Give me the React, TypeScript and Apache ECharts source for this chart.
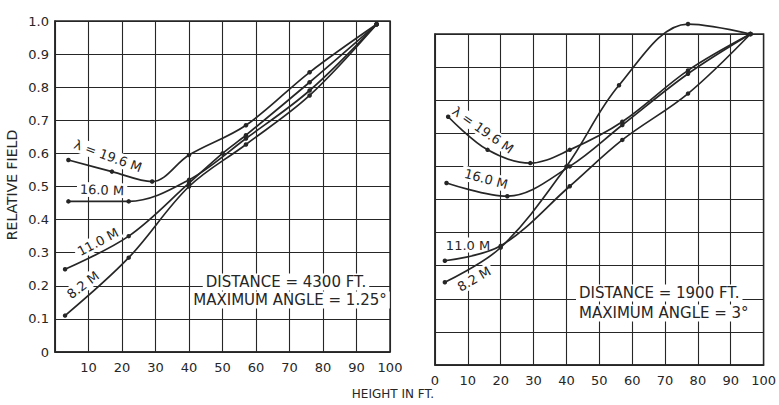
import React, { useEffect, useRef } from "react";
import * as echarts from "echarts";

// ---- data (heights in ft, relative field) ----
const xTicks = [0, 10, 20, 30, 40, 50, 60, 70, 80, 90, 100];
const yTicks = [0, 0.1, 0.2, 0.3, 0.4, 0.5, 0.6, 0.7, 0.8, 0.9, 1.0];

// Left panel: distance 4300 ft, max angle 1.25°
const leftH196 = [4, 17, 29, 40, 57, 76, 96];
const leftF196 = [0.58, 0.545, 0.515, 0.595, 0.685, 0.845, 0.99];
const leftH160 = [4, 22, 40, 57, 76, 96];
const leftF160 = [0.455, 0.455, 0.52, 0.645, 0.79, 0.99];
const leftH110 = [3, 22, 40, 50, 57, 76, 96];
const leftF110 = [0.25, 0.35, 0.51, 0.6, 0.655, 0.815, 0.99];
const leftH82 = [3, 22, 40, 57, 76, 96];
const leftF82 = [0.11, 0.285, 0.5, 0.627, 0.775, 0.99];

// Right panel: distance 1900 ft, max angle 3°
const rightH196 = [4, 16, 29, 41, 57, 77, 96];
const rightF196 = [0.75, 0.65, 0.61, 0.65, 0.735, 0.89, 1.0];
const rightH160 = [3.5, 22, 41, 57, 77, 96];
const rightF160 = [0.55, 0.51, 0.6, 0.725, 0.88, 1.0];
const rightH110 = [3, 20, 41, 57, 77, 96];
const rightF110 = [0.315, 0.36, 0.54, 0.68, 0.82, 1.0];
const rightH82 = [3, 20, 40, 56, 77, 96];
const rightF82 = [0.25, 0.355, 0.6, 0.845, 1.03, 1.0];

const INK = "#262626";
const FONT = '"DejaVu Sans", sans-serif';

function mkX(gi: number, hideZero: boolean) {
  return {
    type: "value",
    gridIndex: gi,
    z: 0,
    min: xTicks[0],
    max: xTicks[xTicks.length - 1],
    interval: xTicks[1] - xTicks[0],
    axisLine: { show: true, onZero: false, lineStyle: { color: INK, width: 1.5 } },
    axisTick: { show: false },
    splitLine: { show: true, lineStyle: { color: INK, width: 1.1 } },
    axisLabel: {
      color: INK,
      fontFamily: FONT,
      fontSize: 13,
      margin: 9,
      showMinLabel: true,
      showMaxLabel: true,
      formatter: (v: number) => (hideZero && v === 0 ? "" : String(v)),
    },
  };
}

function mkY(gi: number, showLabels: boolean) {
  return {
    type: "value",
    gridIndex: gi,
    z: 0,
    min: yTicks[0],
    max: yTicks[yTicks.length - 1],
    interval: 0.1,
    axisLine: { show: true, onZero: false, lineStyle: { color: INK, width: 1.5 } },
    axisTick: { show: false },
    splitLine: { show: true, lineStyle: { color: INK, width: 1.1 } },
    axisLabel: {
      show: showLabels,
      color: INK,
      fontFamily: FONT,
      fontSize: 13,
      margin: 6,
      formatter: (v: number) => (Math.abs(v) < 1e-9 ? "0" : v.toFixed(1)),
    },
  };
}

function mkSeries(name: string, xs: number[], ys: number[], gi: number) {
  return {
    type: "line",
    name,
    xAxisIndex: gi,
    yAxisIndex: gi,
    data: xs.map((x, i) => [x, ys[i]]),
    smooth: 0.35,
    symbol: "circle",
    symbolSize: 4.5,
    clip: false,
    silent: true,
    z: 5,
    lineStyle: { color: INK, width: 1.7 },
    itemStyle: { color: INK },
  };
}

function label(text: string, x: number, y: number, rot: number, size = 13, align = "center") {
  return {
    type: "text",
    x,
    y,
    rotation: rot,
    z: 3,
    style: {
      text,
      fill: INK,
      font: `${size}px ${FONT}`,
      align,
      verticalAlign: "middle",
      backgroundColor: "#ffffff",
      padding: [1, 3],
    },
  };
}

export default function App() {
  const ref = useRef<HTMLDivElement>(null);
  useEffect(() => {
    if (!ref.current) return;
    const chart = echarts.init(ref.current, null, { renderer: "svg" });
    const deg = Math.PI / 180;
    chart.setOption({
      animation: false,
      backgroundColor: "#ffffff",
      grid: [
        { left: 55, top: 21, width: 335, height: 331, show: true, borderColor: INK, borderWidth: 1.5 },
        { left: 435, top: 34, width: 337, height: 331, show: true, borderColor: INK, borderWidth: 1.5 },
      ],
      xAxis: [mkX(0, true), mkX(1, false)],
      yAxis: [mkY(0, true), mkY(1, false)],
      series: [
        mkSeries("λ = 19.6 M (4300 ft)", leftH196, leftF196, 0),
        mkSeries("16.0 M (4300 ft)", leftH160, leftF160, 0),
        mkSeries("11.0 M (4300 ft)", leftH110, leftF110, 0),
        mkSeries("8.2 M (4300 ft)", leftH82, leftF82, 0),
        mkSeries("λ = 19.6 M (1900 ft)", rightH196, rightF196, 1),
        mkSeries("16.0 M (1900 ft)", rightH160, rightF160, 1),
        mkSeries("11.0 M (1900 ft)", rightH110, rightF110, 1),
        mkSeries("8.2 M (1900 ft)", rightH82, rightF82, 1),
      ],
      graphic: {
        elements: [
          // axis titles
          {
            type: "text",
            x: 12,
            y: 185,
            rotation: Math.PI / 2,
            style: { text: "RELATIVE FIELD", fill: INK, font: `14px ${FONT}`, align: "center", verticalAlign: "middle" },
          },
          {
            type: "text",
            x: 393,
            y: 394,
            style: { text: "HEIGHT IN FT.", fill: INK, font: `12px ${FONT}`, align: "center", verticalAlign: "middle" },
          },
          // left panel curve labels
          label("λ = 19.6 M", 108, 156, -20 * deg),
          label("16.0 M", 102, 190, -2 * deg),
          label("11.0 M", 98, 242, 28 * deg),
          label("8.2 M", 83, 285, 37 * deg),
          // right panel curve labels
          label("λ = 19.6 M", 483, 130, -35 * deg),
          label("16.0 M", 486, 179, -15 * deg),
          label("11.0 M", 468, 245, 0),
          label("8.2 M", 474, 279, 30 * deg),
          // notes
          label("DISTANCE = 4300 FT.", 286, 282, 0, 15),
          label("MAXIMUM ANGLE = 1.25°", 290, 300, 0, 15),
          label("DISTANCE = 1900 FT.", 576, 293, 0, 15, "left"),
          label("MAXIMUM ANGLE = 3°", 576, 313, 0, 15, "left"),
        ],
      },
    });
    return () => chart.dispose();
  }, []);
  return (
    <div
      ref={ref}
      style={{ position: "fixed", left: 0, top: 0, width: 779, height: 405, background: "#fff" }}
    />
  );
}
